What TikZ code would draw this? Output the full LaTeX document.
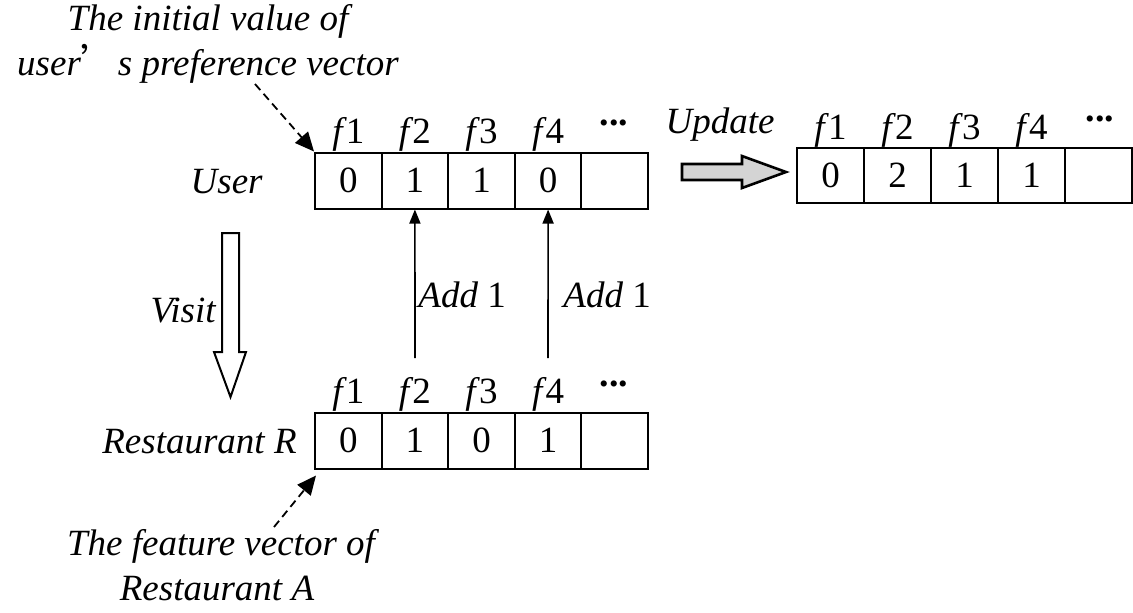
\documentclass[tikz,border=0pt]{standalone}
\usepackage{fontspec}
\setmainfont{Liberation Serif}
\newfontfamily\cjk{Noto Sans CJK SC}
\usetikzlibrary{arrows.meta}
\begin{document}
\begin{tikzpicture}[x=0.5pt,y=-0.5pt,
  every node/.style={font=\fontsize{18.5}{22.5}\selectfont},
  cell/.style={draw,line width=1pt,minimum width=33.3pt,minimum height=28pt,inner sep=0pt},
  rcell/.style={cell,minimum width=33.5pt,minimum height=27.5pt},
  flabel/.style={anchor=base,inner sep=0pt},
  dots/.style={inner sep=0pt,font=\fontsize{19}{22.5}\selectfont\bfseries},
  caption/.style={anchor=base,inner sep=0pt,font=\fontsize{18.5}{22.5}\selectfont\itshape},
  addarrow/.style={line width=0.8pt,-{Triangle[length=7pt,width=5.5pt]}},
  notearrow/.style={line width=0.9pt,dash pattern=on 4pt off 2.5pt,-{Triangle[length=9.5pt,width=8.5pt]}},
]
\useasboundingbox (0,0) rectangle (1133,612);
\newcommand\feat[1]{\textit{f}\kern-0.5pt#1}

% user vector
\foreach \v [count=\i] in {0,1,1,0,{}} {
  \node[cell] (u\i) at ({315+33.3*(2*\i-1)},180.5) {\v};
}
% restaurant vector
\foreach \v [count=\i] in {0,1,0,1,{}} {
  \node[cell] (r\i) at ({315+33.3*(2*\i-1)},440.5) {\v};
}
% updated user vector
\foreach \v [count=\i] in {0,2,1,1,{}} {
  \node[rcell] (n\i) at ({797+33.5*(2*\i-1)},175.5) {\v};
}

% feature labels
\foreach \i in {1,2,3,4} {
  \node[flabel] (uf\i) at ({315+33.3*(2*\i-1)},143) {\feat{\i}};
  \node[flabel] (rf\i) at ({315+33.3*(2*\i-1)},403) {\feat{\i}};
  \node[flabel] (nf\i) at ({797+33.5*(2*\i-1)},139) {\feat{\i}};
}
\node[dots] (ud) at (614,123) {...};
\node[dots] (rd) at (614,384) {...};
\node[dots] (nd) at (1100,119) {...};

% row names
\node[caption,anchor=base east] (user) at (263,193) {User};
\node[caption,anchor=base east] (rest) at (297,453) {Restaurant R};

% notes
\node[caption] (init1) at (208,30) {The initial value of};
\node[caption] (init2) at (208,75) {user{\cjk ’}s preference vector};
\node[caption] (feat1) at (221,555) {The feature vector of};
\node[caption] (feat2) at (217,600) {Restaurant A};
\coordinate (initTail) at (255,84);
\coordinate (featTail) at (274,527);
\draw[notearrow] (initTail) -- (u1.north west);
\draw[notearrow] (featTail) -- ([xshift=1pt,yshift=-3pt]r1.south west);

% add-one arrows
\coordinate (a2) at (415,358);
\coordinate (a4) at (548,358);
\draw[addarrow] (a2) -- (u2.south);
\draw[addarrow] (a4) -- (u4.south);
\node[anchor=base west,inner sep=0pt] (add2) at (418,307) {\textit{Add} 1};
\node[anchor=base west,inner sep=0pt] (add4) at (563,307) {\textit{Add} 1};

% visit arrow (hollow)
\draw[line width=1pt,fill=white,line join=miter]
  (222,233) -- (239,233) -- (239,352) -- (246,352) -- (230.5,397)
  -- (214,352) -- (222,352) -- cycle;
\node[caption,anchor=base east] (visit) at (216,322) {Visit};

% update arrow (grey block)
\draw[line width=1.3pt,fill=black!17,line join=miter]
  (682,164) -- (742,164) -- (742,156) -- (786,172) -- (742,188)
  -- (742,180) -- (682,180) -- cycle;
\node[caption] (update) at (720,133) {Update};
\end{tikzpicture}
\end{document}
